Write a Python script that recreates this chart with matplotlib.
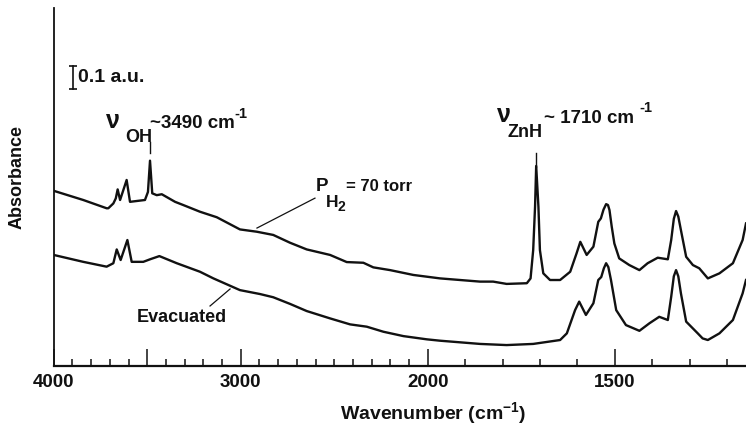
import numpy as np
import matplotlib
matplotlib.use("Agg")
import matplotlib.pyplot as plt
from matplotlib.ticker import FixedLocator, FixedFormatter

plt.rcParams['font.family'] = ['Liberation Sans', 'DejaVu Sans']
plt.rcParams['font.weight'] = 'bold'
plt.rcParams['mathtext.fontset'] = 'custom'
plt.rcParams['mathtext.rm'] = 'Liberation Sans:bold'
plt.rcParams['mathtext.it'] = 'Liberation Sans:bold'
plt.rcParams['mathtext.bf'] = 'Liberation Sans:bold'

# ---------------- data ----------------
wn_h2 = [4000, 3842, 3717, 3708, 3681, 3668, 3658, 3645, 3610, 3592, 3512, 3496,
         3485, 3473, 3449, 3422, 3351, 3307, 3218, 3128, 3004, 2914, 2826, 2736,
         2647, 2522, 2433, 2344, 2291, 2201, 2077, 1967, 1860, 1825, 1789, 1735,
         1725, 1718, 1713, 1710, 1704, 1700, 1691, 1673, 1646, 1619, 1602, 1592,
         1575, 1557, 1544, 1537, 1530, 1523, 1518, 1514, 1508, 1501, 1488, 1461, 1434, 1412,
         1385, 1358, 1349, 1342, 1336, 1330, 1323, 1309, 1291, 1274, 1251, 1220, 1184, 1158, 1149]
abs_h2 = [0.762, 0.722, 0.686, 0.686, 0.707, 0.729, 0.768, 0.722, 0.809, 0.714, 0.722, 0.757,
          0.893, 0.751, 0.743, 0.747, 0.714, 0.700, 0.671, 0.647, 0.594, 0.584, 0.570, 0.536,
          0.507, 0.483, 0.452, 0.449, 0.429, 0.417, 0.396, 0.381, 0.367, 0.367, 0.357, 0.360,
          0.381, 0.504, 0.693, 0.870, 0.693, 0.504, 0.403, 0.374, 0.374, 0.410, 0.490, 0.540,
          0.483, 0.519, 0.627, 0.642, 0.680, 0.704, 0.700, 0.678, 0.606, 0.533, 0.468, 0.439, 0.417, 0.447,
          0.471, 0.464, 0.548, 0.640, 0.674, 0.650, 0.591, 0.475, 0.439, 0.425, 0.381, 0.403, 0.447, 0.548, 0.620]

wn_evac = [4000, 3842, 3717, 3681, 3663, 3642, 3606, 3583, 3521, 3485, 3435, 3342,
           3218, 3146, 3004, 2897, 2826, 2736, 2647, 2522, 2415, 2326, 2237, 2130,
           2005, 1967, 1860, 1789, 1718, 1646, 1628, 1606, 1595, 1577, 1557, 1544,
           1536, 1529, 1523, 1517, 1510, 1496, 1470, 1434, 1407, 1381, 1358, 1349, 1342, 1336, 1330, 1323,
           1309, 1278, 1265, 1251, 1220, 1184, 1158, 1149]
abs_evac = [0.483, 0.453, 0.432, 0.447, 0.507, 0.461, 0.548, 0.453, 0.453, 0.464, 0.478, 0.447,
            0.410, 0.381, 0.330, 0.313, 0.299, 0.270, 0.239, 0.207, 0.181, 0.171, 0.149, 0.130,
            0.116, 0.110, 0.096, 0.091, 0.096, 0.113, 0.142, 0.243, 0.280, 0.222, 0.273, 0.374,
            0.387, 0.425, 0.447, 0.430, 0.374, 0.243, 0.178, 0.153, 0.186, 0.214, 0.200, 0.301, 0.390, 0.417, 0.390, 0.316,
            0.193, 0.142, 0.120, 0.113, 0.142, 0.200, 0.316, 0.374]

major_ticks = [4000, 3500, 3000, 2000, 1500]
major_labels = ['4000', '', '3000', '2000', '1500']
minor_ticks = [3900, 3800, 3700, 3600, 3400, 3300, 3200, 3100, 2900, 2800, 2700, 2600,
               2500, 2400, 2300, 2200, 2100, 1900, 1800, 1700, 1600, 1400, 1300, 1200]

# ---------------- figure ----------------
W, H = 746, 433
fig = plt.figure(figsize=(W / 100, H / 100), dpi=100)
ax = fig.add_axes([53.7 / W, (H - 366) / H, (W - 53.7) / W, (366 - 8) / H])


def fwd(x):
    x = np.asarray(x, float)
    return np.where(x >= 2000, x, 2 * x - 2000)


def inv(u):
    u = np.asarray(u, float)
    return np.where(u >= 2000, u, (u + 2000) / 2)


ax.set_xscale('function', functions=(fwd, inv))
ax.set_xlim(4000, 1149)
ax.set_ylim(0, 1.557)

lc = '#111111'
ax.plot(wn_h2, abs_h2, color=lc, lw=1.7, solid_joinstyle='round')
ax.plot(wn_evac, abs_evac, color=lc, lw=1.7, solid_joinstyle='round')

for s in ['top', 'right']:
    ax.spines[s].set_visible(False)
ax.spines['left'].set_linewidth(1.3)
ax.spines['bottom'].set_linewidth(1.6)
ax.spines['left'].set_color(lc)
ax.spines['bottom'].set_color(lc)
ax.set_yticks([])
ax.xaxis.set_major_locator(FixedLocator(major_ticks))
ax.xaxis.set_major_formatter(FixedFormatter(major_labels))
ax.xaxis.set_minor_locator(FixedLocator(minor_ticks))
ax.tick_params(axis='x', which='major', direction='in', length=12, width=1.1,
               labelsize=13.5, pad=6, colors=lc)
ax.tick_params(axis='x', which='minor', direction='in', length=5, width=1.1, colors=lc)


def fp(x, y):
    return (x / W, 1 - y / H)


def ftext(x, y, s, size, **kw):
    kw.setdefault('va', 'baseline')
    kw.setdefault('ha', 'left')
    fig.text(*fp(x, y), s, fontsize=size, fontweight='bold', color=lc, **kw)


# scale bar 0.1 a.u.
sb_x, sb_y0 = 3898, 1.204
ax.plot([sb_x, sb_x], [sb_y0, sb_y0 + 0.1], color=lc, lw=1.2)
ax.plot([sb_x, sb_x], [sb_y0, sb_y0 + 0.1], ls='none', marker='_', ms=6, mew=1.2, color=lc)
ax.text(3870, sb_y0 + 0.05, '0.1 a.u.', fontsize=14, fontweight='bold', color=lc,
        va='center', ha='left')

# OH band annotation
oh_i = int(np.argmax(abs_h2[:20]))
ax.plot([wn_h2[oh_i]] * 2, [abs_h2[oh_i] + 0.033, abs_h2[oh_i] + 0.081], color=lc, lw=1.0)
ftext(106, 128, 'ν', 18)
ftext(125, 142, 'OH', 13)
ftext(150, 128, '~3490 cm', 13.5)
ftext(234, 118, '-1', 10.5)

# ZnH band annotation
zn_i = int(np.argmax(abs_h2[30:])) + 30
ax.plot([wn_h2[zn_i]] * 2, [abs_h2[zn_i] - 0.004, abs_h2[zn_i] + 0.058], color=lc, lw=1.0)
ftext(497, 122, 'ν', 18)
ftext(508, 137, 'ZnH', 13)
ftext(544, 123, '~ 1710 cm', 13.5)
ftext(639, 112, '-1', 10.5)

# curve labels
ftext(316, 191, 'P', 13.5)
ftext(326, 207, 'H', 12.5)
ftext(337, 211, '2', 10)
ftext(346, 191, '= 70 torr', 12)
ax.plot([2603, 2913], [0.730, 0.600], color=lc, lw=0.9)

ftext(181.5, 317, 'Evacuated', 13, va='center', ha='center')
ax.plot([3164, 3057], [0.261, 0.335], color=lc, lw=0.9)

# axis labels
fig.text(*fp(17, 177), 'Absorbance', fontsize=13, fontweight='bold', color=lc,
         rotation=90, ha='center', va='center')
fig.text(*fp(433, 413), r'Wavenumber (cm$^{-1}$)', fontsize=14, fontweight='bold',
         color=lc, ha='center', va='center')

fig.savefig('out.png', dpi=100)
